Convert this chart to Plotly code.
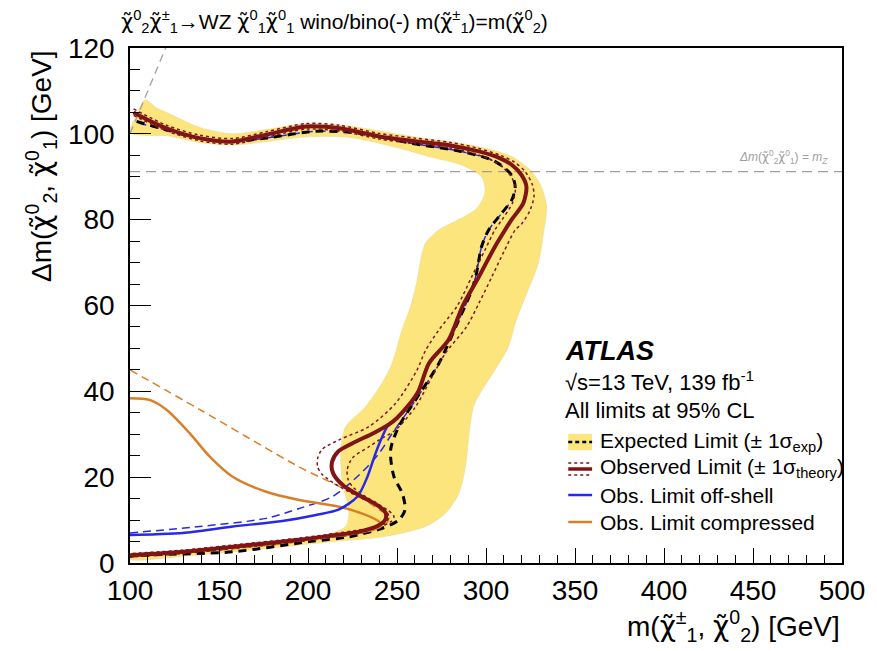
import plotly.graph_objects as go

# ---------------- contour data: m(chargino, neutralino2) [GeV] vs delta m [GeV] ----------------
# expected limit +-1 sigma band, outer edge (top-left -> around -> bottom-left)
band_outer_x = [100, 104, 108.4, 115, 122.4, 139, 157.7, 176.5, 199, 221, 258, 296, 314.4, 325.6,
                331, 334, 332.5, 329.4, 322, 316.4, 312.6, 305, 297.7, 293, 290.5, 288.4, 284.7,
                277.2, 266, 241.7, 213.6, 195, 160, 130, 100]
band_outer_y = [100.3, 104.5, 107.9, 106, 104.6, 101.5, 100, 101, 102.3, 101.9, 99.4, 97, 94.7, 91.2,
                87.7, 83, 77.6, 69.9, 62, 55.9, 50.4, 45, 40.3, 36.5, 30.2, 22.4, 16.2,
                11.6, 8.5, 6.1, 5, 4.2, 2.7, 1.6, 0.9]
# expected limit +-1 sigma band, inner edge
band_inner_x = [100, 111, 120.5, 139, 157.7, 176.5, 199, 223, 251, 268, 286, 297.5, 299.6, 298,
                294, 287, 280.8, 273.5, 266, 263, 261.4, 257.6, 252.8, 247.3, 241.6, 231.5, 221.2,
                218.5, 219.4, 223, 221.2, 206.3, 195, 157.7, 111, 100]
band_inner_y = [100.3, 99.6, 99.6, 98, 97.4, 98.2, 99.3, 99.2, 96.7, 94.7, 92.8, 90, 87, 84.5,
                82.3, 80.5, 79.2, 77.6, 74.5, 69.9, 66, 59.7, 54.3, 46.5, 41.9, 36, 31.8,
                26.3, 18.6, 12.4, 8.5, 6.1, 5.4, 3.6, 2.4, 2.1]

# expected limit
exp_x = [103.7, 120.5, 139, 154, 176.5, 204.5, 230, 258, 286, 305, 314.4, 316.4, 314.5, 308.8,
         301.5, 297.5, 294.7, 292, 284.7, 273.5, 260.4, 251, 246.4, 248.3, 253, 254.5, 251,
         241.7, 223, 200.7, 157.7, 111, 100]
exp_y = [102.9, 100.9, 99, 98.2, 99, 100.6, 100.1, 97.8, 95.9, 93.6, 90.4, 87.7, 84.6, 81.5,
         77.6, 73.7, 67.6, 63.6, 56.6, 46.5, 38, 31.8, 26.3, 20.1, 16.2, 12.4, 10,
         8.1, 6.1, 5, 2.6, 1.9, 1.6]

# observed limit
obs_x = [102, 104.6, 120.5, 139, 157.7, 176.5, 199, 217.5, 240, 260, 280, 296, 308, 314.4, 320,
         322.7, 321, 314.4, 310.7, 305, 296, 287, 279, 267.9, 262, 256, 250, 245.5, 237, 225,
         217, 213.5, 214, 220, 230, 238, 243.5, 243.5, 239, 228.7, 210, 195, 158, 130, 100]
obs_y = [105, 104.4, 101.3, 99, 98.2, 99.8, 101.7, 101.3, 99.4, 98.3, 97.3, 95.9, 94.3, 92.8, 90.4,
         87.7, 83.9, 80, 77.6, 73.7, 66.7, 60, 52, 46.5, 40, 36.5, 33.8, 32.3, 30.3, 27.9,
         26, 23.5, 21, 18, 15.5, 13.7, 11.8, 10.2, 8.6, 7.3, 6.2, 5.4, 3.8, 2.6, 1.8]

# observed limit, theory variations
obs_dn_x = [102, 120.5, 139, 157.7, 176.5, 199, 217.5, 240, 260, 280, 294, 304, 310, 314.5, 316.5,
            315, 309, 305, 299.5, 292, 284, 273.5, 266, 261.3, 249.2, 234.3, 217.5, 208, 205.5,
            205.4, 208, 212, 222, 232.4, 240, 244.6, 248.3, 246.5, 241.7, 229, 210, 195, 158, 130, 100]
obs_dn_y = [104.3, 100.7, 98.4, 97.6, 99.2, 101.1, 100.7, 98.8, 97.7, 96.7, 95.3, 93.7, 92, 89.8, 87.5,
            84, 80, 77.6, 73, 66.7, 60, 54.3, 49.5, 45, 37.2, 31.8, 28.7, 26.5, 24.5,
            22.4, 20.6, 19.3, 16.8, 14.7, 13.3, 12.4, 10.8, 9.6, 8.6, 6.9, 5.8, 5, 3.4, 2.2, 1.4]
obs_up_x = [102, 120.5, 139, 157.7, 176.5, 199, 217.5, 240, 260, 280, 296, 308, 316, 322, 326,
            327, 324.5, 320, 316.4, 310, 303.3, 296, 289, 277.2, 269.7, 260.4, 249.2, 240, 234.3,
            225, 222, 222.5, 225, 233, 241.7, 245.5, 243, 238, 228.7, 210, 195, 158, 130, 100]
obs_up_y = [105.8, 102, 99.7, 98.9, 100.5, 102.4, 102, 100.1, 99, 98, 96.6, 95, 93.4, 91.2, 88.2,
            85.5, 82, 79, 77.6, 72.5, 66.7, 60.5, 55, 48.9, 43.4, 36.4, 31, 28.7, 27.1,
            24.5, 21.7, 19.5, 17.8, 15.3, 13.1, 10.8, 9.3, 8.4, 7.7, 6.6, 5.8, 4.2, 3, 2.2]

# off-shell search, observed and expected
offs_obs_x = [100, 115, 129.8, 157.7, 185.7, 204.5, 217.5, 227.8, 233.4, 238, 241.7, 244.6, 250,
              256, 262, 267.9, 279, 287]
offs_obs_y = [6.5, 6.7, 7, 8.5, 9.8, 11.2, 12.5, 15.5, 20.1, 25.6, 29.4, 31.8, 33.8,
              36.5, 40, 46.5, 52, 60]
offs_exp_x = [100, 139, 176.5, 195, 213.8, 228.7, 240, 247.3, 256.7, 273.5, 284.7, 292, 294.7,
              297.5, 301.5, 308.8, 314.5, 316.4, 314.4, 305, 286, 258, 230, 204.5, 176.5, 154,
              139, 120.5, 103.7]
offs_exp_y = [7, 8.5, 10.4, 12.7, 15.5, 20.5, 25.6, 30.2, 35.7, 46.5, 56.6, 63.6, 67.6,
              73.7, 77.6, 81.5, 84.6, 87.7, 90.4, 93.6, 95.9, 97.8, 100.1, 100.6, 99, 98.2,
              99, 100.9, 102.6]

# compressed search, observed and expected
comp_obs_x = [100, 111, 120.5, 133.6, 144.8, 157.7, 176.5, 195, 217.5, 232.4, 240, 240.8, 236,
              210, 180, 150, 125, 100]
comp_obs_y = [38.4, 38, 35.7, 30.2, 24.8, 20.1, 16.6, 14.7, 13.1, 11.2, 9.6, 8.5, 7.7,
              6, 4.7, 3.4, 2.4, 1.7]
comp_exp_x = [100, 139, 195, 213.8, 228.7, 240, 245.5, 244, 235, 200, 150, 100]
comp_exp_y = [45, 35.8, 22.4, 18.6, 15.5, 12.4, 10.8, 9.2, 7.5, 5.2, 3, 1.5]

# reference lines
mz_value = 91.2
kin_x = [100, 120]
kin_y = [100, 120]

# ---------------- styles ----------------
YELLOW = "rgb(252,229,125)"
DARKRED = "rgb(128,20,22)"
BLUE = "rgb(40,40,235)"
ORANGE = "rgb(216,128,40)"
GREY = "rgb(160,160,160)"
FONT = "Liberation Sans, Arial, Helvetica, sans-serif"

fig = go.Figure()


def curve(x, y, color, width, dash="solid", smoothing=0.8):
    fig.add_trace(go.Scatter(
        x=x, y=y, mode="lines", hoverinfo="skip", showlegend=False,
        line=dict(color=color, width=width, dash=dash, shape="spline", smoothing=smoothing),
    ))


# +-1 sigma expected band as one closed polygon
fig.add_trace(go.Scatter(
    x=band_outer_x + band_inner_x[::-1],
    y=band_outer_y + band_inner_y[::-1],
    mode="lines", fill="toself", fillcolor=YELLOW, hoverinfo="skip", showlegend=False,
    line=dict(color="rgb(240,222,150)", width=0.8, shape="spline", smoothing=0.8),
))

# kinematic limit and Z-mass reference lines
curve(kin_x, kin_y, GREY, 1.3, dash="8px,5px", smoothing=0)
curve([100, 500], [mz_value, mz_value], GREY, 1.3, dash="10px,6px", smoothing=0)

curve(comp_exp_x, comp_exp_y, ORANGE, 1.5, dash="8px,5px")
curve(offs_exp_x, offs_exp_y, BLUE, 1.5, dash="8px,5px")
curve(exp_x, exp_y, "black", 3, dash="8px,6px")
curve(obs_dn_x, obs_dn_y, DARKRED, 1.5, dash="dot")
curve(obs_up_x, obs_up_y, DARKRED, 1.5, dash="dot")
curve(comp_obs_x, comp_obs_y, ORANGE, 2.5)
curve(offs_obs_x, offs_obs_y, BLUE, 2.5)
curve(obs_x, obs_y, DARKRED, 4)

# ---------------- legend block (drawn in data coordinates) ----------------
shapes = [
    dict(type="rect", xref="x", yref="y", x0=346.2, x1=359.6, y0=26.3, y1=30.1,
         fillcolor=YELLOW, line=dict(width=0)),
    dict(type="line", xref="x", yref="y", x0=346.2, x1=359.6, y0=28.2, y1=28.2,
         line=dict(color="black", width=2.5, dash="4px,3px")),
    dict(type="line", xref="x", yref="y", x0=346.2, x1=359.6, y0=23.3, y1=23.3,
         line=dict(color=DARKRED, width=1.3, dash="dot")),
    dict(type="line", xref="x", yref="y", x0=346.2, x1=359.6, y0=21.9, y1=21.9,
         line=dict(color=DARKRED, width=3.5)),
    dict(type="line", xref="x", yref="y", x0=346.2, x1=359.6, y0=20.5, y1=20.5,
         line=dict(color=DARKRED, width=1.3, dash="dot")),
    dict(type="line", xref="x", yref="y", x0=346.2, x1=359.6, y0=15.84, y1=15.84,
         line=dict(color=BLUE, width=2.5)),
    dict(type="line", xref="x", yref="y", x0=346.2, x1=359.6, y0=9.55, y1=9.55,
         line=dict(color=ORANGE, width=2.5)),
]

# chi-tilde symbol: DejaVu places the combining tilde over the preceding glyph
CHI = '<span style="font-family:DejaVu Sans">\u03c7\u0303</span>'


def chi(up, down):
    return CHI + "<sup>" + up + "</sup><sub>" + down + "</sub>"


ann = []


def text(x, y, s, size, xref="x", yref="y", xanchor="left", yanchor="middle", color="black", **kw):
    ann.append(dict(x=x, y=y, xref=xref, yref=yref, text=s, showarrow=False,
                    xanchor=xanchor, yanchor=yanchor,
                    font=dict(family=FONT, size=size, color=color), **kw))


text(343.4, 49.4, "<b><i>ATLAS</i></b>", 27)
text(343.4, 42.5, "\u221as=13 TeV, 139 fb<sup>-1</sup>", 22)
text(343.4, 35.6, "All limits at 95% CL", 22)
text(362.9, 28.3, "Expected Limit (\u00b1 1\u03c3<sub>exp</sub>)", 21)
text(362.9, 22.1, "Observed Limit (\u00b1 1\u03c3<sub>theory</sub>)", 21)
text(362.9, 15.8, "Obs. Limit off-shell", 21)
text(362.9, 9.5, "Obs. Limit compressed", 21)

# Z-mass line label
text(493, 94.6, "<i>\u0394m</i>(" + chi("0", "2") + chi("0", "1") + ") = <i>m<sub>Z</sub></i>",
     12, xanchor="right", color=GREY)

# title and axis titles
text(-0.015, 1.052, chi("0", "2") + chi("\u00b1", "1") + "\u2192WZ " + chi("0", "1") + chi("0", "1") +
     " wino/bino(-) m(" + chi("\u00b1", "1") + ")=m(" + chi("0", "2") + ")",
     21, xref="paper", yref="paper")
text(1.0, -0.122, "m(" + chi("\u00b1", "1") + ", " + chi("0", "2") + ") [GeV]",
     28, xref="paper", yref="paper", xanchor="right")
text(-0.125, 1.0, "\u0394m(" + chi("0", "2") + ", " + chi("0", "1") + ") [GeV]",
     28, xref="paper", yref="paper", xanchor="center", yanchor="top", textangle=-90)

axis_common = dict(
    showgrid=False, zeroline=False, showline=True, linecolor="black", linewidth=1.6,
    mirror=True, ticks="inside", tickcolor="black", tickwidth=1.4,
    tickfont=dict(family=FONT, size=28, color="black"),
)

fig.update_layout(
    width=877, height=651,
    margin=dict(l=130, r=32, t=48, b=88),
    paper_bgcolor="white", plot_bgcolor="white",
    shapes=shapes, annotations=ann, showlegend=False,
    xaxis=dict(range=[100, 500], dtick=50, tick0=100, ticklen=15,
               minor=dict(dtick=10, ticklen=8, ticks="inside", tickcolor="black", tickwidth=1.2),
               ticklabelstandoff=2, **axis_common),
    yaxis=dict(range=[0, 120], dtick=20, tick0=0, ticklen=21,
               minor=dict(dtick=5, ticklen=10, ticks="inside", tickcolor="black", tickwidth=1.2),
               ticklabelstandoff=8, **axis_common),
)

fig.write_html("out.html")
